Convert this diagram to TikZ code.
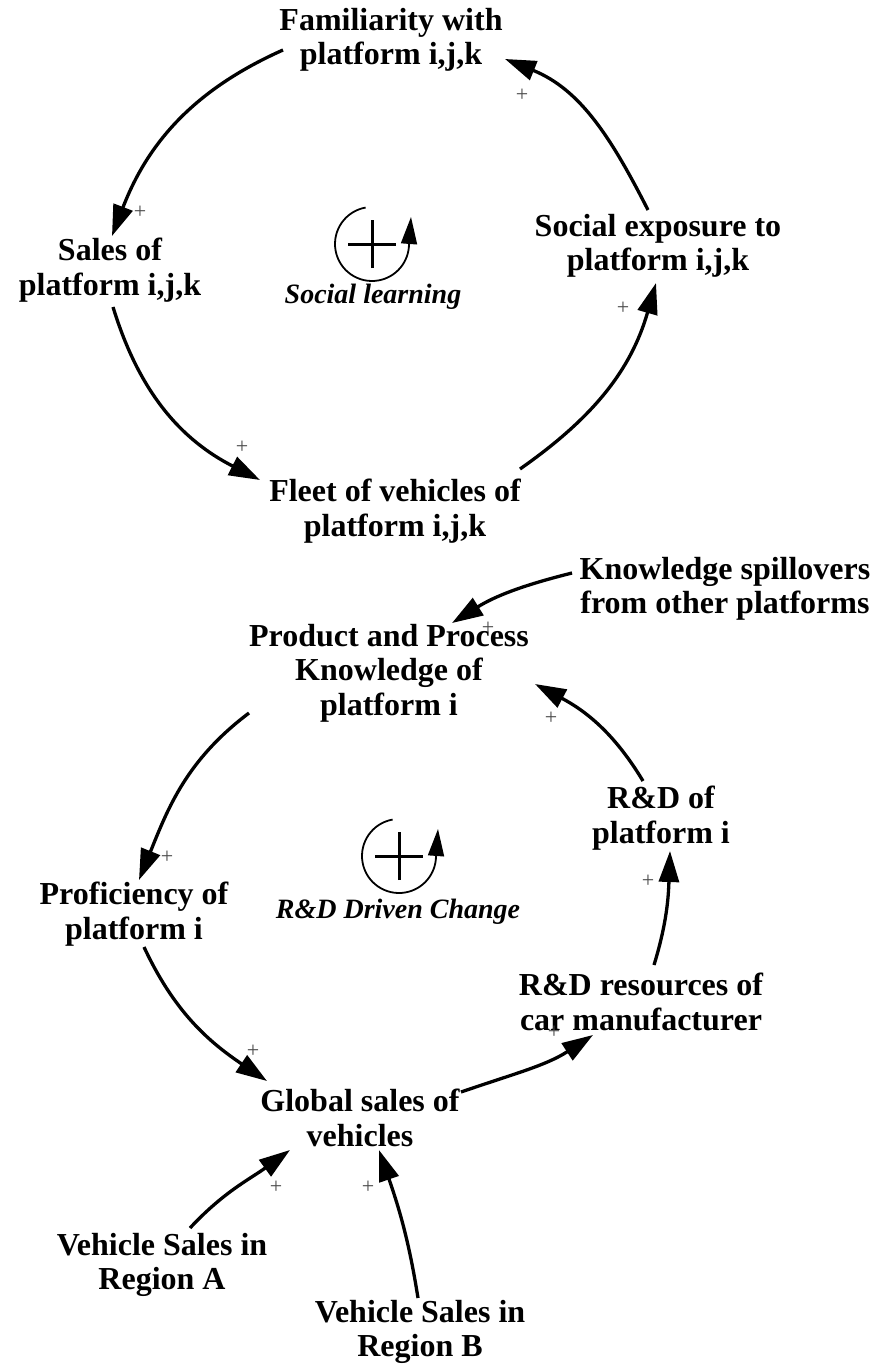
\documentclass[tikz,border=0pt]{standalone}
\usepackage{fontspec}
\setmainfont{Liberation Serif}
\usetikzlibrary{arrows.meta,calc}
\tikzset{
  var/.style={font=\bfseries\fontsize{32}{34.5}\selectfont, align=center, inner sep=0pt},
  looplabel/.style={font=\bfseries\itshape\fontsize{28}{32}\selectfont, inner sep=0pt},
  link/.style={line width=3.3pt, -{Triangle[length=31pt,width=20pt]}},
  pol/.style={font=\fontsize{22}{22}\selectfont, text=black!70, inner sep=0pt},
}
\def\loopsign(#1,#2){%
  \draw[line width=1.8pt, -{Triangle[length=27pt,width=16pt]}] ($(#1,#2)+(100:37)$) arc (100:360:37) -- ++(2,27);
  \draw[line width=3pt] ($(#1,#2)+(-24,0)$) -- ++(48,0) ($(#1,#2)+(0,-24)$) -- ++(0,48);
}

\begin{document}
\begin{tikzpicture}[x=1pt,y=1pt]
	%%%%% START %%%%%
	\fill[white] (0,0) rectangle (871,-1367);
	\useasboundingbox (0,0) rectangle (871,-1367);
	
	% social learning loop
	\node[var] (fam) at (391,-40) {Familiarity with\\platform i,j,k};
	\node[var] (sales) at (110,-270) {Sales of\\platform i,j,k};
	\node[var] (social) at (658,-246) {Social exposure to\\platform i,j,k};
	\node[var] (fleet) at (395,-511) {Fleet of vehicles of\\platform i,j,k};
	
	\loopsign(372,-244)
	\node[looplabel] (learn) at (373,-297) {Social learning};
	
	\draw[link] ($(fam)+(-108,-10)$) to[out=204,in=69] ($(sales)+(2,34)$);
	\draw[link] ($(sales)+(3,-37)$) to[out=287,in=153] ($(fleet)+(-135,31)$);
	\draw[link] ($(fleet)+(125,42)$) to[out=35,in=254] ($(social)+(-2,-37)$);
	\draw[link] ($(social)+(-10,36)$) to[out=117,in=338] ($(fam)+(114,-19)$);
	
	\node[pol] (p1) at (140,-212) {+};
	\node[pol] (p2) at (242,-447) {+};
	\node[pol] (p3) at (623,-308) {+};
	\node[pol] (p4) at (522,-95) {+};
	
	% R&D loop
	\node[var] (knowl) at (389,-673) {Product and Process\\Knowledge of\\platform i};
	\node[var] (spill) at (725,-589) {Knowledge spillovers\\from other platforms};
	\node[var] (rd) at (661,-818) {R\&D of\\platform i};
	\node[var] (prof) at (134,-914) {Proficiency of\\platform i};
	\node[var] (res) at (641,-1002) {R\&D resources of\\car manufacturer};
	\node[var] (glob) at (360,-1118) {Global sales of\\vehicles};
	\node[var] (rega) at (162,-1265) {Vehicle Sales in\\Region A};
	\node[var] (regb) at (420,-1332) {Vehicle Sales in\\Region B};
	
	\loopsign(399,-856)
	\node[looplabel] (rdloop) at (398,-912) {R\&D Driven Change};
	
	\draw[link] ($(spill)+(-153,16)$) to[out=194,in=32] ($(knowl)+(63,50)$);
	\draw[link] ($(rd)+(-18,37)$) to[out=121,in=332] ($(knowl)+(146,-11)$);
	\draw[link] ($(res)+(13,37)$) to[out=73,in=268] ($(rd)+(9,-33)$);
	\draw[link] ($(glob)+(101,26)$) to[out=19,in=213] ($(res)+(-48,-33)$);
	\draw[link] ($(knowl)+(-140,-40)$) to[out=217,in=68] ($(prof)+(5,34)$);
	\draw[link] ($(prof)+(10,-33)$) to[out=295,in=146] ($(glob)+(-93,37)$);
	\draw[link] ($(rega)+(28,37)$) to[out=47,in=216] ($(glob)+(-70,-32)$);
	\draw[link] ($(regb)+(-2,34)$) to[out=99,in=289] ($(glob)+(19,-32)$);
	
	\node[pol] (p5) at (488,-628) {+};
	\node[pol] (p6) at (551,-718) {+};
	\node[pol] (p7) at (648,-881) {+};
	\node[pol] (p8) at (554,-1032) {+};
	\node[pol] (p9) at (167,-857) {+};
	\node[pol] (p10) at (253,-1051) {+};
	\node[pol] (p11) at (276,-1187) {+};
	\node[pol] (p12) at (368,-1187) {+};
	%%%%% END %%%%%
\end{tikzpicture}
\end{document}
